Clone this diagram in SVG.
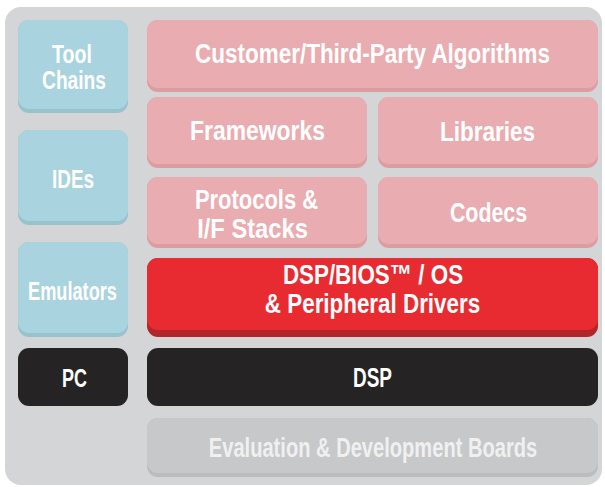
<svg xmlns="http://www.w3.org/2000/svg" width="605" height="487" viewBox="0 0 605 487">
<style>
  text { font-family: "Liberation Sans", Arial, sans-serif; font-weight: bold; fill: #ffffff; text-anchor: middle; }
  .big { font-size: 28px; }
  .mid { font-size: 25px; }
  .pink .s { fill: #dc9da1; } .pink .m { fill: #e9acb0; }
  .blue .s { fill: #97c3ce; } .blue .m { fill: #a9d3de; }
  .red .s { fill: #b3252a; } .red .m { fill: #e82b31; }
  .black .s { fill: #1a1718; } .black .m { fill: #262324; }
  .grey .s { fill: #babcbe; } .grey .m { fill: #c6c8ca; }
  .grey text { fill: #f0f0f0; }
</style>
<rect x="0" y="0" width="605" height="487" fill="#ffffff"/>
<rect id="panel" x="5" y="7" width="597" height="478" rx="16" fill="#d3d5d7"/>

<g id="toolchains" class="blue">
  <rect class="s" x="18" y="20" width="110" height="93" rx="11"/>
  <rect class="m" x="18" y="20" width="110" height="89" rx="11"/>
  <text class="mid" transform="translate(72,63) scale(0.78,1)" textLength="51" lengthAdjust="spacingAndGlyphs">Tool</text>
  <text class="mid" transform="translate(74,89) scale(0.78,1)" textLength="82" lengthAdjust="spacingAndGlyphs">Chains</text>
</g>
<g id="ides" class="blue">
  <rect class="s" x="18" y="130" width="110" height="95" rx="11"/>
  <rect class="m" x="18" y="130" width="110" height="91" rx="11"/>
  <text class="mid" transform="translate(73,188) scale(0.78,1)" textLength="54" lengthAdjust="spacingAndGlyphs">IDEs</text>
</g>
<g id="emulators" class="blue">
  <rect class="s" x="18" y="242" width="110" height="95" rx="11"/>
  <rect class="m" x="18" y="242" width="110" height="91" rx="11"/>
  <text class="mid" transform="translate(72.5,300) scale(0.78,1)" textLength="114" lengthAdjust="spacingAndGlyphs">Emulators</text>
</g>
<g id="pc" class="black">
  <rect class="m" x="18" y="348" width="110" height="58" rx="11"/>
  <text class="mid" transform="translate(74.5,387) scale(0.78,1)" textLength="32" lengthAdjust="spacingAndGlyphs">PC</text>
</g>

<g id="customer" class="pink">
  <rect class="s" x="147" y="20" width="451" height="72" rx="11"/>
  <rect class="m" x="147" y="20" width="451" height="68" rx="11"/>
  <text class="big" transform="translate(372.5,63) scale(0.78,1)" textLength="455" lengthAdjust="spacingAndGlyphs">Customer/Third-Party Algorithms</text>
</g>
<g id="frameworks" class="pink">
  <rect class="s" x="147" y="97" width="220" height="71" rx="11"/>
  <rect class="m" x="147" y="97" width="220" height="67" rx="11"/>
  <text class="big" transform="translate(257.5,140) scale(0.78,1)" textLength="173" lengthAdjust="spacingAndGlyphs">Frameworks</text>
</g>
<g id="libraries" class="pink">
  <rect class="s" x="378" y="97" width="220" height="71" rx="11"/>
  <rect class="m" x="378" y="97" width="220" height="67" rx="11"/>
  <text class="big" transform="translate(487.5,141) scale(0.78,1)" textLength="122" lengthAdjust="spacingAndGlyphs">Libraries</text>
</g>
<g id="protocols" class="pink">
  <rect class="s" x="147" y="177" width="220" height="71" rx="11"/>
  <rect class="m" x="147" y="177" width="220" height="67" rx="11"/>
  <text class="big" transform="translate(256.5,209) scale(0.78,1)" textLength="158" lengthAdjust="spacingAndGlyphs">Protocols &amp;</text>
  <text class="big" transform="translate(252.5,238) scale(0.78,1)" textLength="142" lengthAdjust="spacingAndGlyphs">I/F Stacks</text>
</g>
<g id="codecs" class="pink">
  <rect class="s" x="378" y="177" width="220" height="71" rx="11"/>
  <rect class="m" x="378" y="177" width="220" height="67" rx="11"/>
  <text class="big" transform="translate(488.5,222) scale(0.78,1)" textLength="99" lengthAdjust="spacingAndGlyphs">Codecs</text>
</g>
<g id="dspbios" class="red">
  <rect class="s" x="147" y="258" width="451" height="79" rx="11"/>
  <rect class="m" x="147" y="258" width="451" height="72" rx="11"/>
  <text class="big" transform="translate(373,284) scale(0.78,1)" textLength="231" lengthAdjust="spacingAndGlyphs">DSP/BIOS™ / OS</text>
  <text class="big" transform="translate(372.5,313) scale(0.78,1)" textLength="276" lengthAdjust="spacingAndGlyphs">&amp; Peripheral Drivers</text>
</g>
<g id="dsp" class="black">
  <rect class="m" x="147" y="348" width="451" height="58" rx="11"/>
  <text class="big" transform="translate(372.5,387) scale(0.78,1)" textLength="50" lengthAdjust="spacingAndGlyphs">DSP</text>
</g>
<g id="boards" class="grey">
  <rect class="s" x="147" y="418" width="451" height="59" rx="11"/>
  <rect class="m" x="147" y="418" width="451" height="55" rx="11"/>
  <text class="big" transform="translate(373,457) scale(0.78,1)" textLength="421" lengthAdjust="spacingAndGlyphs">Evaluation &amp; Development Boards</text>
</g>
<g id="connectors"/>
</svg>
